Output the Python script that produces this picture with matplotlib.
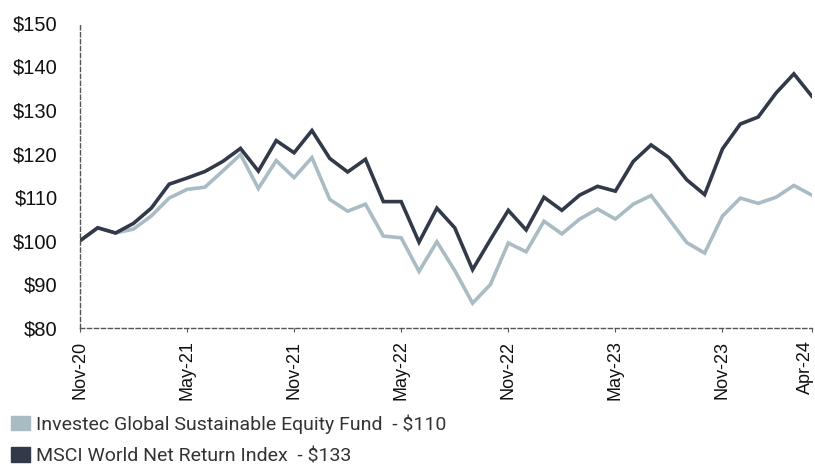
import matplotlib.pyplot as plt
import matplotlib.transforms as mtransforms
from matplotlib.patches import Patch

# ----------------------------
# Data (growth of $100, monthly)
# ----------------------------
months = ["Nov-20", "Dec-20", "Jan-21", "Feb-21", "Mar-21", "Apr-21",
          "May-21", "Jun-21", "Jul-21", "Aug-21", "Sep-21", "Oct-21",
          "Nov-21", "Dec-21", "Jan-22", "Feb-22", "Mar-22", "Apr-22",
          "May-22", "Jun-22", "Jul-22", "Aug-22", "Sep-22", "Oct-22",
          "Nov-22", "Dec-22", "Jan-23", "Feb-23", "Mar-23", "Apr-23",
          "May-23", "Jun-23", "Jul-23", "Aug-23", "Sep-23", "Oct-23",
          "Nov-23", "Dec-23", "Jan-24", "Feb-24", "Mar-24", "Apr-24"]

fund = [100, 103, 101.8, 102.7, 105.7, 109.8,
        111.8, 112.3, 116, 119.8, 112, 118.4,
        114.5, 119.1, 109.5, 106.8, 108.4, 101.1,
        100.7, 93, 99.8, 93.2, 85.7, 90,
        99.5, 97.5, 104.5, 101.6, 105, 107.3,
        105, 108.4, 110.4, 105, 99.6, 97.2,
        105.7, 109.8, 108.6, 110, 112.7, 110.5]

msci = [100, 103, 101.8, 104, 107.5, 113,
        114.4, 115.9, 118.2, 121.2, 116, 123,
        120.2, 125.3, 118.9, 115.8, 118.7, 109,
        109, 99.7, 107.5, 103, 93.4, 100.3,
        107, 102.5, 110, 107, 110.5, 112.5,
        111.4, 118.2, 122, 119.1, 114, 110.6,
        121.1, 126.8, 128.4, 133.9, 138.3, 133.2]

tick_labels = ["Nov-20", "May-21", "Nov-21", "May-22", "Nov-22", "May-23", "Nov-23", "Apr-24"]
y_ticks = [80, 90, 100, 110, 120, 130, 140, 150]

fund_label = "Investec Global Sustainable Equity Fund  - $110"
msci_label = "MSCI World Net Return Index  - $133"

light = "#a9bcc3"
dark = "#323a4a"

# ----------------------------
# Plot
# ----------------------------
fig = plt.figure(figsize=(8.15, 4.66), dpi=100)
ax = fig.add_axes([0.098, 0.296, 0.898, 0.655])

x = list(range(len(months)))
ax.plot(x, fund, color=light, lw=2.6, solid_joinstyle="miter")
ax.plot(x, msci, color=dark, lw=2.6, solid_joinstyle="miter")

ax.set_xlim(0, len(months) - 1)
ax.set_ylim(80, 150)

for s in ["top", "right"]:
    ax.spines[s].set_visible(False)
for s in ["left", "bottom"]:
    ax.spines[s].set_linestyle((0, (3, 2)))
    ax.spines[s].set_color("#555555")
    ax.spines[s].set_linewidth(1.0)

ax.set_yticks(y_ticks)
ax.set_yticklabels(["$" + str(v) for v in y_ticks], fontsize=14.5,
                   family="Liberation Sans", color="#111111")
ax.tick_params(axis="y", length=0, pad=16)

ax.set_xticks([months.index(t) for t in tick_labels])
ax.set_xticklabels(tick_labels, rotation=90, fontsize=13,
                   family="Liberation Sans", color="#111111")
ax.tick_params(axis="x", length=3, color="#555555", pad=6)
last = ax.get_xticklabels()[-1]
last.set_transform(last.get_transform() + mtransforms.ScaledTranslation(-0.06, 0, fig.dpi_scale_trans))

handles = [Patch(color=light), Patch(color=dark)]
fig.legend(handles, [fund_label, msci_label], loc="lower left",
           bbox_to_anchor=(-0.008, -0.036), frameon=False,
           prop={"family": "Roboto", "size": 14},
           handlelength=1.0, handleheight=0.75, handletextpad=0.3,
           labelspacing=0.7, labelcolor="#333333")

fig.savefig("out.png", dpi=100)
